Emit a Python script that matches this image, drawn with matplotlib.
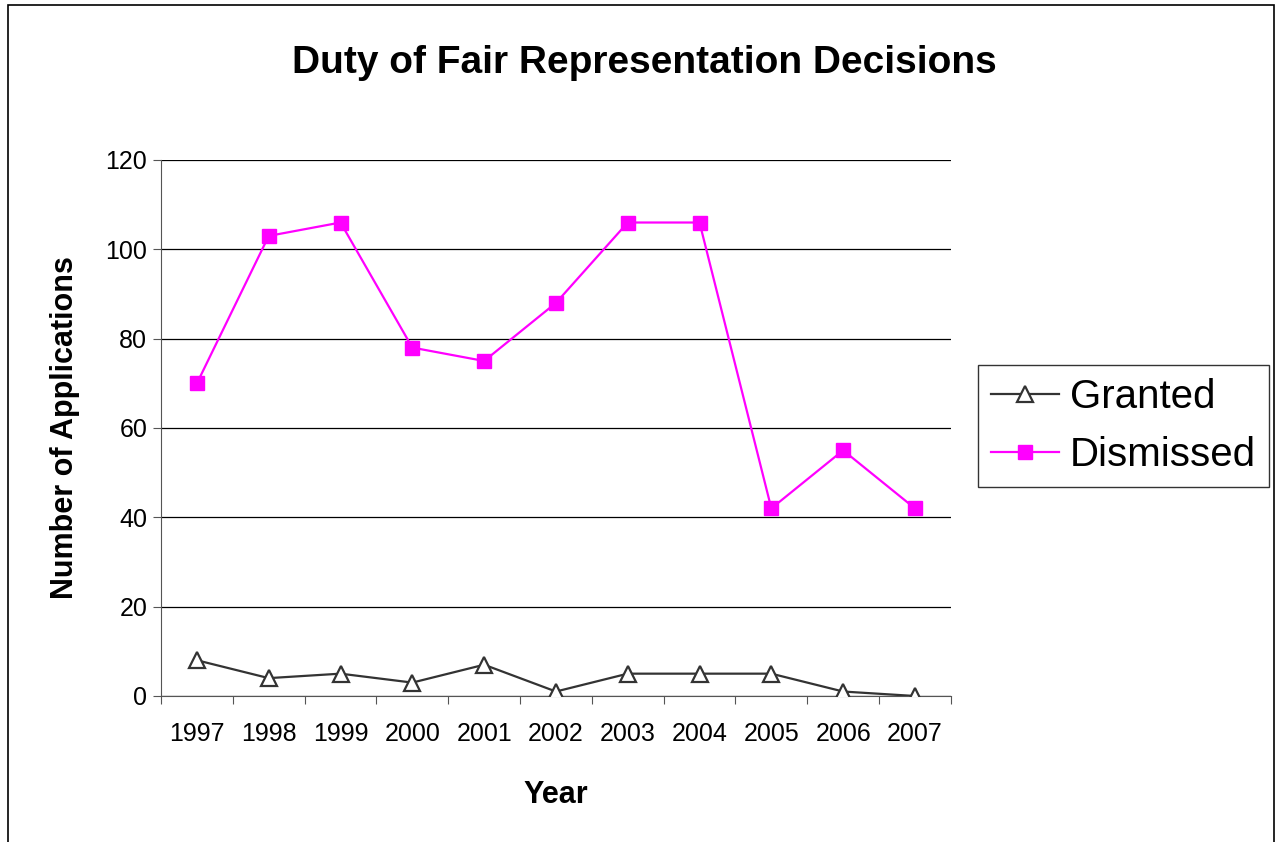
import matplotlib.pyplot as plt
from matplotlib.patches import Rectangle

plt.rcParams['font.family'] = ['Liberation Sans', 'DejaVu Sans']

years = ['1997', '1998', '1999', '2000', '2001', '2002',
         '2003', '2004', '2005', '2006', '2007']
granted = [8, 4, 5, 3, 7, 1, 5, 5, 5, 1, 0]
dismissed = [70, 103, 106, 78, 75, 88, 106, 106, 42, 55, 42]
y_ticks = [0, 20, 40, 60, 80, 100, 120]

fig = plt.figure(figsize=(12.78, 8.42), dpi=100)
ax = fig.add_axes([0.126, 0.1734, 0.618, 0.6366])

x = list(range(len(years)))
ax.plot(x, granted, color='#333333', lw=1.6, marker='^', ms=12,
        mfc='white', mec='#333333', mew=1.6, label='Granted', zorder=3)
ax.plot(x, dismissed, color='#ff00ff', lw=1.6, marker='s', ms=10,
        mfc='#ff00ff', mec='#ff00ff', label='Dismissed', zorder=3)

ax.set_xlim(-0.5, len(years) - 0.5)
ax.set_ylim(0, 120)
ax.set_yticks(y_ticks)
ax.set_yticklabels([str(v) for v in y_ticks], fontsize=18)
ax.yaxis.grid(True, color='black', lw=0.9)
ax.set_axisbelow(True)

# category boundaries carry the ticks, labels sit between them
ax.set_xticks([i - 0.5 for i in range(len(years) + 1)])
ax.set_xticklabels([])
ax.set_xticks(x, minor=True)
ax.set_xticklabels(years, minor=True, fontsize=18)
ax.tick_params(axis='x', which='major', length=6, color='#555555')
ax.tick_params(axis='x', which='minor', length=0, pad=19)
ax.tick_params(axis='y', length=6, color='#555555', pad=4)

for side in ['top', 'right']:
    ax.spines[side].set_visible(False)
ax.spines['left'].set_color('#555555')
ax.spines['bottom'].set_color('#555555')

ax.set_xlabel('Year', fontsize=22, fontweight='bold', labelpad=24)
ax.set_ylabel('Number of Applications', fontsize=22, fontweight='bold', labelpad=18)

fig.text(0.504, 0.925, 'Duty of Fair Representation Decisions',
         ha='center', va='center', fontsize=28, fontweight='bold')

leg = fig.legend(loc='center left', bbox_to_anchor=(0.765, 0.494),
                 fontsize=29, frameon=True, fancybox=False, edgecolor='black',
                 handlelength=1.7, handletextpad=0.25, borderpad=0.33,
                 labelspacing=0.5, borderaxespad=0)
leg.get_frame().set_linewidth(1.0)

# outer chart border
fig.patches.append(Rectangle((0.006, -0.05), 0.991, 1.044, transform=fig.transFigure,
                             fill=False, edgecolor='black', lw=1.2))

fig.savefig('out.png', dpi=100)
